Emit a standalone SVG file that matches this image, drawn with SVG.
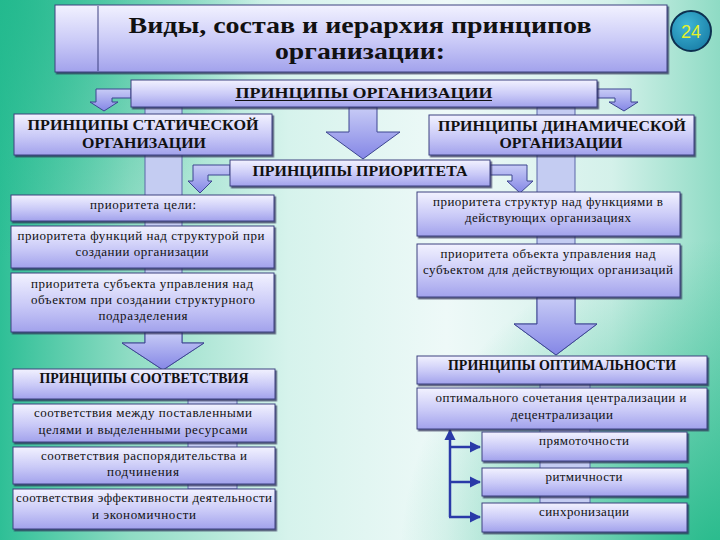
<svg xmlns="http://www.w3.org/2000/svg" width="720" height="540" viewBox="0 0 720 540">
<defs>
<linearGradient id="bg" x1="0" y1="0" x2="1" y2="0">
<stop offset="0" stop-color="#2ebf96"/>
<stop offset="0.18" stop-color="#8fdcc4"/>
<stop offset="0.4" stop-color="#d6f3ec"/>
<stop offset="0.62" stop-color="#eef9f8"/>
<stop offset="0.85" stop-color="#d4f1ea"/>
<stop offset="1" stop-color="#8edbc4"/>
</linearGradient>
<radialGradient id="bgbr" cx="720" cy="560" r="320" gradientUnits="userSpaceOnUse">
<stop offset="0" stop-color="#1fb887" stop-opacity="0.95"/>
<stop offset="1" stop-color="#1fb887" stop-opacity="0"/>
</radialGradient>
<radialGradient id="bgtl" cx="0" cy="0" r="260" gradientUnits="userSpaceOnUse">
<stop offset="0" stop-color="#20b88c" stop-opacity="0.8"/>
<stop offset="1" stop-color="#20b88c" stop-opacity="0"/>
</radialGradient>
<linearGradient id="box" x1="0" y1="0" x2="0" y2="1">
<stop offset="0" stop-color="#f2f2ff"/>
<stop offset="0.55" stop-color="#c9c9f7"/>
<stop offset="1" stop-color="#a2a2ec"/>
</linearGradient>
<linearGradient id="arr" x1="0" y1="0" x2="0" y2="1">
<stop offset="0" stop-color="#c8ccf6"/>
<stop offset="1" stop-color="#8486e6"/>
</linearGradient>
<radialGradient id="badge" cx="0.4" cy="0.35" r="0.7">
<stop offset="0" stop-color="#3fb6d6"/>
<stop offset="1" stop-color="#1a7fa8"/>
</radialGradient>
<filter id="sh" x="-5%" y="-10%" width="110%" height="130%">
<feDropShadow dx="1.5" dy="1.8" stdDeviation="0.6" flood-color="#2a2a55" flood-opacity="0.75"/>
</filter>
<marker id="ah" viewBox="0 0 10 10" refX="9" refY="5" markerWidth="4.5" markerHeight="4.5" orient="auto-start-reverse">
<path d="M0,0 L10,5 L0,10 Z" fill="#2a3aa8"/>
</marker>
</defs>
<style>
.bx{fill:url(#box);stroke:#3c4080;stroke-width:1;filter:url(#sh)}
.ar{fill:url(#arr);stroke:#3c4590;stroke-width:1}
.st{fill:#c4ccf2;stroke:#5a66a8;stroke-width:1}
.h{font-family:"Liberation Serif","DejaVu Serif",serif;font-weight:bold;font-size:15px;fill:#111;text-anchor:middle}
.t{font-family:"Liberation Serif","DejaVu Serif",serif;font-size:13px;fill:#111;text-anchor:middle}
.ttl{font-family:"Liberation Serif","DejaVu Serif",serif;font-weight:bold;font-size:24px;fill:#111;text-anchor:middle}
.cn{stroke:#2a3aa8;stroke-width:2.5;fill:none}
</style>
<rect width="720" height="540" fill="url(#bg)"/>
<rect width="720" height="540" fill="url(#bgtl)"/>
<rect width="720" height="540" fill="url(#bgbr)"/>

<g id="connectors">
<path class="st" d="M145,107 L182,107 L182,343 L204,343 L163,370 L122,343 L145,343 Z"/>
<path class="ar" d="M145,332 L182,332 L182,343 L204,343 L163,370 L122,343 L145,343 Z"/>
<path class="st" d="M537,107 L575,107 L575,324 L597,324 L556,355 L514,324 L537,324 Z"/>
<path class="ar" d="M537,297 L575,297 L575,324 L597,324 L556,355 L514,324 L537,324 Z"/>
<path class="ar" d="M349,107 L377,107 L377,132 L400,132 L363,159 L326,132 L349,132 Z"/>
<path class="ar" d="M131,89 L96,89 L96,102 L90,102 L104,111 L118,102 L112,102 L112,98 L131,98 Z"/>
<path class="ar" d="M597,89 L631,89 L631,102 L638,102 L624,111 L609,102 L615,102 L615,98 L597,98 Z"/>
<path class="ar" d="M230,165 L193,165 L193,181 L188,181 L200,193 L212,181 L208,181 L208,175 L230,175 Z"/>
<path class="ar" d="M490,165 L527,165 L527,181 L533,181 L520,193 L507,181 L512,181 L512,175 L490,175 Z"/>
<rect class="st" x="188" y="399" width="49" height="90"/>
<rect class="st" x="540" y="384" width="50" height="119"/>
<line class="cn" x1="450" y1="517" x2="450" y2="430" marker-end="url(#ah)"/>
<line class="cn" x1="450" y1="447" x2="480" y2="447" marker-end="url(#ah)"/>
<line class="cn" x1="450" y1="482" x2="480" y2="482" marker-end="url(#ah)"/>
<line class="cn" x1="449" y1="517" x2="480" y2="517" marker-end="url(#ah)"/>
</g>

<g id="title">
<rect class="bx" x="55" y="5" width="612" height="67"/>
<line x1="98" y1="6" x2="98" y2="71" stroke="#3c4080" stroke-width="1"/>
<text class="ttl" x="360" y="33" textLength="463" lengthAdjust="spacingAndGlyphs">Виды, состав и иерархия принципов</text>
<text class="ttl" x="360" y="59" textLength="170" lengthAdjust="spacingAndGlyphs">организации:</text>
</g>
<g id="badge24">
<circle cx="691" cy="31" r="20" fill="url(#badge)" stroke="#0d3050" stroke-width="2"/>
<text x="691" y="38" font-family="Liberation Sans, Arial, sans-serif" font-size="18" fill="#e4f02a" text-anchor="middle">24</text>
</g>
<g id="org">
<rect class="bx" x="131" y="80" width="466" height="27"/>
<text class="h" x="364" y="98" font-size="16" textLength="257" lengthAdjust="spacingAndGlyphs">ПРИНЦИПЫ ОРГАНИЗАЦИИ</text>
<line x1="235" y1="100.5" x2="492" y2="100.5" stroke="#111" stroke-width="1.2"/>
</g>
<g id="static">
<rect class="bx" x="14" y="114" width="258" height="41"/>
<text class="h" x="143" y="130" textLength="231" lengthAdjust="spacingAndGlyphs">ПРИНЦИПЫ СТАТИЧЕСКОЙ</text>
<text class="h" x="144" y="148" textLength="124" lengthAdjust="spacingAndGlyphs">ОРГАНИЗАЦИИ</text>
</g>
<g id="dynamic">
<rect class="bx" x="429" y="115" width="265" height="40"/>
<text class="h" x="562" y="131" textLength="248" lengthAdjust="spacingAndGlyphs">ПРИНЦИПЫ ДИНАМИЧЕСКОЙ</text>
<text class="h" x="561" y="148" textLength="123" lengthAdjust="spacingAndGlyphs">ОРГАНИЗАЦИИ</text>
</g>
<g id="priority">
<rect class="bx" x="230" y="160" width="260" height="26"/>
<text class="h" x="360" y="176" textLength="215" lengthAdjust="spacingAndGlyphs">ПРИНЦИПЫ ПРИОРИТЕТА</text>
</g>
<g id="goal">
<rect class="bx" x="11" y="195" width="263" height="26"/>
<text class="t" x="143" y="209" textLength="106">приоритета цели:</text>
</g>
<g id="func">
<rect class="bx" x="11" y="226" width="263" height="42"/>
<text class="t" x="141" y="240" textLength="247">приоритета функций над структурой при</text>
<text class="t" x="142" y="256" textLength="133">создании организации</text>
</g>
<g id="subj">
<rect class="bx" x="11" y="273" width="263" height="59"/>
<text class="t" x="142" y="288" textLength="222">приоритета субъекта управления над</text>
<text class="t" x="143" y="304" textLength="224">объектом при создании структурного</text>
<text class="t" x="143" y="320" textLength="89">подразделения</text>
</g>
<g id="corr">
<rect class="bx" x="13" y="369" width="262" height="30"/>
<text class="h" x="144" y="383" font-size="14" textLength="209" lengthAdjust="spacingAndGlyphs">ПРИНЦИПЫ СООТВЕТСТВИЯ</text>
</g>
<g id="corr1">
<rect class="bx" x="13" y="404" width="262" height="38"/>
<text class="t" x="143" y="417" textLength="218">соответствия между поставленными</text>
<text class="t" x="143" y="434" textLength="209">целями и выделенными ресурсами</text>
</g>
<g id="corr2">
<rect class="bx" x="13" y="447" width="262" height="37"/>
<text class="t" x="144" y="460" textLength="206">соответствия распорядительства и</text>
<text class="t" x="143" y="476" textLength="72">подчинения</text>
</g>
<g id="corr3">
<rect class="bx" x="13" y="489" width="262" height="40"/>
<text class="t" x="144" y="502" textLength="256">соответствия эффективности деятельности</text>
<text class="t" x="144" y="519" textLength="104">и экономичности</text>
</g>
<g id="struct">
<rect class="bx" x="417" y="192" width="263" height="44"/>
<text class="t" x="548" y="206" textLength="230">приоритета структур над функциями в</text>
<text class="t" x="548" y="222" textLength="166">действующих организациях</text>
</g>
<g id="obj">
<rect class="bx" x="417" y="244" width="263" height="53"/>
<text class="t" x="548" y="258" textLength="215">приоритета объекта управления над</text>
<text class="t" x="548" y="274" textLength="250">субъектом для действующих организаций</text>
</g>
<g id="opt">
<rect class="bx" x="417" y="356" width="290" height="28"/>
<text class="h" x="562" y="370" font-size="14" textLength="228" lengthAdjust="spacingAndGlyphs">ПРИНЦИПЫ ОПТИМАЛЬНОСТИ</text>
</g>
<g id="opt1">
<rect class="bx" x="417" y="388" width="290" height="41"/>
<text class="t" x="561" y="402" textLength="251">оптимального сочетания централизации и</text>
<text class="t" x="562" y="419" textLength="102">децентрализации</text>
</g>
<g id="direct">
<rect class="bx" x="482" y="432" width="205" height="29"/>
<text class="t" x="584" y="445" textLength="90">прямоточности</text>
</g>
<g id="rhythm">
<rect class="bx" x="482" y="468" width="205" height="28"/>
<text class="t" x="584" y="481" textLength="77">ритмичности</text>
</g>
<g id="sync">
<rect class="bx" x="482" y="503" width="205" height="29"/>
<text class="t" x="584" y="516" textLength="90">синхронизации</text>
</g>
</svg>
